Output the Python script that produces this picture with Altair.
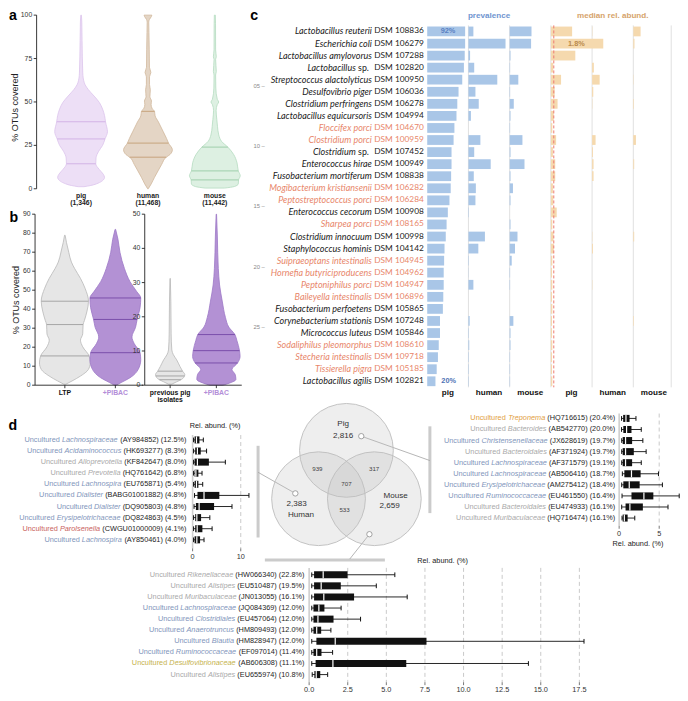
import math
import altair as alt
import pandas as pd

# ============================ DATA ============================
# ---- panel a : % OTUs covered (violin outlines)
a_names = ["pig", "human", "mouse"]
a_counts = ["(1,346)", "(11,468)", "(11,442)"]
a_ticks = [0, 25, 50, 75, 100]
pig_v = [100, 96.6, 85.3, 66.6, 61.0, 57.2, 53.4, 49.7, 45.9, 42.2, 38.6, 32.8, 28.7, 25.0, 21.6, 17.8, 14.4, 11.3, 8.4, 6.6, 4.7, 3.2, 1.9, 1.2]
pig_w = [0.3, 0.7, 1.0, 1.7, 3.3, 7.3, 13.3, 18.7, 22.0, 24.0, 25.0, 27.0, 24.5, 22.0, 18.0, 15.3, 15.0, 18.3, 22.7, 24.0, 22.0, 17.3, 10.0, 3.0]
pig_q = [14.4, 28.7, 38.6]
pig_qw = [15.0, 24.5, 25.0]
human_v = [100, 99.2, 97.5, 96, 90, 80, 70, 67, 64.5, 60, 57, 53, 50.5, 48.5, 46, 44.6, 42, 38.5, 32.8, 29, 26.3, 22.5, 19.7, 18.2, 14, 10.3, 6.6, 2.8, 0]
human_w = [4.0, 3.5, 1.5, 0.8, 1.0, 1.3, 1.5, 3.0, 1.6, 1.6, 2.4, 2.0, 3.6, 3.2, 4.5, 6.7, 7.3, 10.7, 15.7, 19.0, 21.0, 25.0, 22.5, 18.7, 14.0, 10.3, 6.7, 3.3, 0.3]
human_q = [18.2, 26.3, 44.6]
human_qw = [18.7, 21.0, 6.7]
mouse_v = [100, 95, 80, 76, 74.5, 67.5, 65.5, 58, 51.5, 50, 48.5, 45, 40, 36, 31, 27.2, 24.0, 19.7, 15, 10.3, 7.5, 5.1, 2.8, 1.3, 0.4]
mouse_w = [0.5, 0.7, 0.8, 1.5, 0.8, 1.5, 0.8, 1.0, 2.5, 4.0, 2.5, 1.3, 2.0, 2.7, 4.0, 7.0, 13.3, 19.3, 22.7, 24.0, 26.0, 24.3, 24.0, 20.0, 10.0]
mouse_q = [5.1, 10.3, 24.0]
mouse_qw = [24.3, 24.0, 13.3]

# ---- panel b
b_left_names = ["LTP", "+PIBAC"]
b_right_names = ["previous pig", "+PIBAC"]
b_right_sub = ["isolates", ""]
b_left_ticks = [0, 10, 20, 30, 40, 50, 60, 70, 80, 90]
b_right_ticks = [0, 10, 20, 30, 40, 50]
ltp_v = [78.9, 75, 70, 64.8, 61.4, 56.2, 51, 44.2, 39, 34, 31.9, 27, 23.7, 20.2, 15.4, 11.7, 8.2, 4.8, 2.2, 0.5]
ltp_w = [0.3, 1.7, 4, 6.7, 10, 16, 20.7, 24.2, 22.7, 20, 18.7, 18.3, 16, 18.3, 24.8, 26, 24, 16, 7.3, 1]
ltp_q = [15.4, 31.9, 44.2]
ltp_qw = [24.8, 18.7, 24.2]
pibac_v = [82, 76.8, 70, 61.4, 54.5, 49.4, 45.9, 40.8, 34.6, 30.5, 25.4, 21.9, 17.1, 13.4, 8.2, 3.9, 1.4, 0]
pibac_w = [0.3, 2.7, 4.7, 9.3, 15, 21.7, 26, 25.3, 22.3, 20.7, 17, 19.3, 25.3, 26, 23.3, 15, 6, 1]
pibac_q = [17.1, 34.6, 45.9]
pibac_qw = [25.3, 22.3, 26.0]
prevpig_v = [31.2, 24.6, 15, 10.3, 8.9, 7.4, 5.5, 4.1, 3.1, 2.7, 1.7, 1.0, 0.3]
prevpig_w = [0.2, 0.7, 1, 1.7, 3.3, 6.7, 10, 12.7, 15, 14.7, 11.7, 6.7, 1.7]
prevpig_q = [1.6, 2.7, 4.1]
prevpig_qw = [11.0, 14.7, 12.7]
pibac2_v = [50, 43.6, 34.1, 29.3, 24.6, 19.8, 17, 14.8, 13.1, 10.1, 8.4, 6.5, 4.6, 3.1, 1.7, 0.6, 0]
pibac2_w = [0.2, 1, 2, 3.3, 6, 9.3, 12.7, 19, 21, 23.7, 24.3, 21.7, 16, 19.3, 20, 13.3, 6.7]
pibac2_q = [6.5, 10.1, 14.8]
pibac2_qw = [21.7, 23.7, 19.0]

# ---- panel c
species = ["Lactobacillus reuterii", "Escherichia coli", "Lactobacillus amylovorus", "Lactobacillus sp.",
           "Streptococcus alactolyticus", "Desulfovibrio piger", "Clostridium perfringens",
           "Lactobacillus equicursoris", "Floccifex porci", "Clostridium porci", "Clostridium sp.",
           "Enterococcus hirae", "Fusobacterium mortiferum", "Mogibacterium kristiansenii",
           "Peptostreptococcus porci", "Enterococcus cecorum", "Sharpea porci", "Clostridium innocuum",
           "Staphylococcus hominis", "Suipraeoptans intestinalis", "Hornefia butyriciproducens",
           "Peptoniphilus porci", "Baileyella intestinalis", "Fusobacterium perfoetens",
           "Corynebacterium stationis", "Micrococcus luteus", "Sodaliphilus pleomorphus",
           "Stecheria intestinalis", "Tissierella pigra", "Lactobacillus agilis"]
dsm = ["DSM 108836", "DSM 106279", "DSM 107288", "DSM 102820", "DSM 100950", "DSM 106036", "DSM 106278",
       "DSM 104994", "DSM 104670", "DSM 100959", "DSM 107452", "DSM 100949", "DSM 108838", "DSM 106282",
       "DSM 106284", "DSM 100908", "DSM 108165", "DSM 100998", "DSM 104142", "DSM 104945", "DSM 104962",
       "DSM 104947", "DSM 106896", "DSM 105865", "DSM 107248", "DSM 105846", "DSM 108610", "DSM 109718",
       "DSM 105185", "DSM 102821"]
novel = [0, 0, 0, 0, 0, 0, 0, 0, 1, 1, 0, 0, 0, 1, 1, 0, 1, 0, 0, 1, 1, 1, 1, 0, 0, 0, 1, 1, 1, 0]
prev_pig = [92, 92, 91, 89, 85, 76, 73, 71, 66, 64, 59, 59, 58, 57, 54, 50, 47, 45, 42, 41, 40, 40, 39, 38, 31, 31, 28, 26, 23, 20]
prev_human = [12, 90, 4, 14, 70, 17, 25, 6, 0, 29, 14, 54, 13, 18, 17, 1, 0, 40, 24, 1, 0.5, 12, 0, 0, 3, 1, 2, 1, 1, 1]
prev_mouse = [53, 52, 2, 1, 21, 1, 10, 2, 1, 31, 2, 36, 2, 8, 2, 0, 2, 19, 13, 5, 1, 1, 0, 0, 9, 2, 2, 1, 1, 1]
abund_pig = [0.73, 1.8, 0.84, 0.08, 0.35, 0.13, 0.23, 0.10, 0.05, 0.18, 0.07, 0.15, 0.15, 0.07, 0.08, 0.20, 0.05, 0.09, 0.10, 0.05, 0.04, 0.05, 0.04, 0.05, 0.04, 0.04, 0.05, 0.04, 0.04, 0.05]
abund_human = [0.01, 0.01, 0, 0.06, 0.26, 0.04, 0.01, 0, 0, 0.12, 0.03, 0.05, 0.05, 0, 0, 0, 0, 0.01, 0.03, 0, 0, 0.01, 0, 0, 0, 0, 0, 0, 0, 0]
abund_mouse = [0.25, 0.04, 0, 0, 0.01, 0, 0.02, 0, 0, 0.09, 0, 0.03, 0, 0, 0, 0, 0, 0.03, 0, 0, 0, 0, 0, 0, 0.02, 0, 0, 0, 0, 0]
c_cols = ["pig", "human", "mouse", "pig", "human", "mouse"]
abund_threshold = 0.1

# ---- panel d (boxplots: min, q1, median, q3, max in % rel. abundance)
dl_genus = ["Lachnospiraceae", "Acidaminococcus", "Alloprevotella", "Prevotella", "Lachnospira",
            "Dialister", "Dialister", "Erysipelotrichaceae", "Parolsenella", "Lachnospira"]
dl_acc = ["AY984852", "HK693277", "KF842647", "HQ761642", "EU765871", "BABG01001882", "DQ905803",
          "DQ824863", "CWGU01000009", "AY850461"]
dl_pct = ["12.5%", "8.3%", "8.0%", "6.8%", "5.4%", "4.8%", "4.8%", "4.5%", "4.1%", "4.0%"]
dl_phy = ["F", "F", "B", "B", "F", "F", "F", "F", "A", "F"]
dl_min = [0.2, 0.2, 0.2, 0.2, 0.2, 0.4, 0.3, 0.2, 0.2, 0.2]
dl_q1 = [0.41, 0.54, 0.41, 0.41, 0.41, 1.01, 0.68, 0.54, 0.54, 0.41]
dl_med = [0.81, 1.0, 1.0, 0.68, 0.81, 2.37, 1.35, 0.88, 0.95, 0.88]
dl_q3 = [1.42, 1.69, 3.38, 1.2, 1.2, 5.55, 4.46, 1.76, 2.03, 1.55]
dl_max = [2.23, 2.9, 6.8, 1.96, 2.1, 11.7, 8.18, 3.58, 4.05, 2.37]

dr_genus = ["Treponema", "Bacteroides", "Christensenellaceae", "Bacteroidales", "Lachnospiraceae",
            "Lachnospiraceae", "Erysipelotrichaceae", "Ruminococcaceae", "Bacteroidales", "Muribaculaceae"]
dr_acc = ["HQ716615", "AB542770", "JX628619", "AF371924", "AF371579", "AB506416", "AM275412",
          "EU461550", "EU474933", "HQ716474"]
dr_pct = ["20.4%", "20.0%", "19.7%", "19.7%", "19.1%", "18.7%", "18.4%", "16.4%", "16.1%", "16.1%"]
dr_phy = ["S", "B", "F", "B", "F", "F", "F", "F", "B", "B"]
dr_min = [0.3, 0.3, 0.32, 0.32, 0.32, 0.4, 0.32, 0.36, 0.32, 0.36]
dr_q1 = [0.5, 0.52, 0.44, 0.44, 0.44, 0.65, 0.52, 1.54, 0.8, 0.44]
dr_med = [0.85, 0.93, 0.8, 0.8, 0.8, 1.54, 1.26, 3.09, 1.34, 0.65]
dr_q3 = [1.3, 1.54, 1.62, 1.83, 1.62, 2.68, 2.56, 4.27, 2.96, 1.06]
dr_max = [2.1, 2.76, 2.96, 3.37, 2.76, 4.91, 5.4, 7.5, 6.1, 1.95]

db_genus = ["Rikenellaceae", "Alistipes", "Muribaculaceae", "Lachnospiraceae", "Clostridiales",
            "Anaerotruncus", "Blautia", "Ruminococcaceae", "Desulfovibrionaceae", "Alistipes"]
db_acc = ["HW066340", "EU510487", "JN013055", "JQ084369", "EU457064", "HM809493", "HM828947",
          "EF097014", "AB606308", "EU655974"]
db_pct = ["22.8%", "19.5%", "16.1%", "12.0%", "12.0%", "12.0%", "12.0%", "11.4%", "11.1%", "10.8%"]
db_phy = ["B", "B", "B", "F", "F", "F", "F", "F", "P", "B"]
db_min = [0.17, 0.17, 0.17, 0.17, 0.17, 0.17, 0.17, 0.17, 0.17, 0.2]
db_q1 = [0.32, 0.32, 0.32, 0.28, 0.28, 0.28, 0.47, 0.28, 0.42, 0.34]
db_med = [0.91, 0.78, 0.95, 0.63, 0.57, 0.49, 1.69, 0.49, 1.54, 0.46]
db_q3 = [2.49, 2.05, 2.91, 0.99, 1.58, 0.78, 7.6, 0.8, 6.29, 0.72]
db_max = [5.55, 4.35, 6.35, 2.07, 3.33, 1.41, 17.8, 1.52, 14.2, 1.2]

phylum_color = {"B": "#a9a9a9", "F": "#8195bb", "A": "#c9625c", "S": "#e2a03e", "P": "#c6b24c"}

# ---- Venn
venn_names = ["Pig", "Human", "Mouse"]
venn_only = ["2,816", "2,383", "2,659"]
venn_pairs = ["939", "317", "533"]   # pig-human, pig-mouse, human-mouse
venn_all = "707"

# ============================ LAYOUT HELPERS ============================
W, H = 672, 685
SX = W / 688.0
SY = H / 701.0
FS = (SX + SY) / 2.0
SANS = "Liberation Sans, Arial, Helvetica, sans-serif"
CFONT = "Lato, Open Sans, sans-serif"


def P(X):
    return X * SX


def Q(Y):
    return Y * SY


def XS(d0, d1, X0, X1):
    return alt.Scale(domain=[d0, d1], range=[P(X0), P(X1)], nice=False, zero=False)


def YS(d0, d1, Y0, Y1):
    return alt.Scale(domain=[d0, d1], range=[Q(Y0), Q(Y1)], nice=False, zero=False)


LAYERS = []


def add(data, mark, sx, sy, x="x", y="y", x2=None, y2=None, props=None, **enc):
    e = {"x": alt.X(field=x, type="quantitative", scale=sx, axis=None),
         "y": alt.Y(field=y, type="quantitative", scale=sy, axis=None)}
    if x2:
        e["x2"] = alt.X2(field=x2)
    if y2:
        e["y2"] = alt.Y2(field=y2)
    e.update(enc)
    ch = getattr(alt.Chart(pd.DataFrame(data)), "mark_" + mark)(**(props or {})).encode(**e)
    LAYERS.append(ch)


def add_text(data, sx, sy, size, font=SANS, **props):
    enc = {"text": alt.Text(field="t", type="nominal")}
    if "c" in data:
        enc["color"] = alt.Color(field="c", type="nominal", scale=None)
    p = dict(font=font, fontSize=size * FS, baseline="middle")
    p.update(props)
    add(data, "text", sx, sy, props=p, **enc)


def violin(sx, sy, unit, pos, vals, widths, fill, stroke, qv, qw, qcol):
    d = dict(y=vals, xl=[pos - w / unit for w in widths], xr=[pos + w / unit for w in widths])
    add(d, "area", sx, sy, x="xl", y="y", x2="xr",
        props=dict(orient="horizontal", interpolate="monotone", fill=fill, stroke=stroke,
                   strokeWidth=0.8, opacity=1))
    dq = dict(y=qv, xl=[pos - w / unit for w in qw], xr=[pos + w / unit for w in qw])
    add(dq, "rule", sx, sy, x="xl", y="y", x2="xr", props=dict(color=qcol, strokeWidth=1.0))


def yaxis(sx, sy, xpos, unit, lo, hi, ticks, size=7):
    n = len(ticks)
    add(dict(x=[xpos], y=[lo], y2=[hi]), "rule", sx, sy, y2="y2", props=dict(color="#222", strokeWidth=0.9))
    add(dict(x=[xpos] * n, x2=[xpos - 3.0 / unit] * n, y=ticks), "rule", sx, sy, x2="x2",
        props=dict(color="#222", strokeWidth=0.9))
    add_text(dict(x=[xpos] * n, y=ticks, t=[str(t) for t in ticks]), sx, sy, size,
             align="right", dx=-4.5 * SX, color="#333")


FIG_X = XS(0, 688, 0, 688)
FIG_Y = YS(0, 701, 0, 701)

# ============================ PANEL a ============================
A_U = (246.0 - 29.3) / 3.165
A_X = XS(-0.165, 3.0, 29.3, 246.0)
A_Y = YS(0, 100, 185.0, 7.3)
violin(A_X, A_Y, A_U, 0.5, pig_v, pig_w, "#eddff6", "#dcc4ec", pig_q, pig_qw, "#d3b3e6")
violin(A_X, A_Y, A_U, 1.5, human_v, human_w, "#e4d5c5", "#d0b89c", human_q, human_qw, "#c7a47d")
violin(A_X, A_Y, A_U, 2.5, mouse_v, mouse_w, "#ddf0e2", "#b5dcc0", mouse_q, mouse_qw, "#9fcfab")
yaxis(A_X, A_Y, -0.165, A_U, 0, 100, a_ticks)
add_text(dict(x=[0.5, 1.5, 2.5], y=[0, 0, 0], t=a_names), A_X, A_Y, 7, dy=7 * SY,
         fontWeight="bold", color="#222")
add_text(dict(x=[0.5, 1.5, 2.5], y=[0, 0, 0], t=a_counts), A_X, A_Y, 7, dy=15 * SY,
         fontWeight="bold", color="#222")

# ============================ PANEL b ============================
B1_U = 51.7
B1_X = XS(-0.09, 2.05, 27.7, 27.7 + 2.14 * B1_U)
B1_Y = YS(0, 90, 386, 211)
violin(B1_X, B1_Y, B1_U, 0.5, ltp_v, ltp_w, "#e6e6e6", "#b8b8b8", ltp_q, ltp_qw, "#a6a6a6")
violin(B1_X, B1_Y, B1_U, 1.5, pibac_v, pibac_w, "#b391d4", "#9d78c6", pibac_q, pibac_qw, "#7b4fab")
yaxis(B1_X, B1_Y, -0.09, B1_U, 0, 90, b_left_ticks)
add(dict(x=[-0.09], x2=[2.05], y=[0]), "rule", B1_X, B1_Y, x2="x2", props=dict(color="#222", strokeWidth=0.9))
add(dict(x=[0.5, 1.5], y=[0, 0], y2=[-1.6, -1.6]), "rule", B1_X, B1_Y, y2="y2", props=dict(color="#222", strokeWidth=0.9))
add_text(dict(x=[0.5, 1.5], y=[0, 0], t=b_left_names, c=["#111", "#b38ed8"]), B1_X, B1_Y, 7,
         dy=8.5 * SY, fontWeight="bold")

B2_U = 47.3
B2_X = XS(-0.05, 2.05, 140.0, 140.0 + 2.1 * B2_U)
B2_Y = YS(0, 50, 386, 211)
violin(B2_X, B2_Y, B2_U, 0.5, prevpig_v, prevpig_w, "#e6e6e6", "#b8b8b8", prevpig_q, prevpig_qw, "#a6a6a6")
violin(B2_X, B2_Y, B2_U, 1.5, pibac2_v, pibac2_w, "#b391d4", "#9d78c6", pibac2_q, pibac2_qw, "#7b4fab")
yaxis(B2_X, B2_Y, -0.05, B2_U, 0, 50, b_right_ticks)
add(dict(x=[-0.05], x2=[2.05], y=[0]), "rule", B2_X, B2_Y, x2="x2", props=dict(color="#222", strokeWidth=0.9))
add(dict(x=[0.5, 1.5], y=[0, 0], y2=[-0.86, -0.86]), "rule", B2_X, B2_Y, y2="y2", props=dict(color="#222", strokeWidth=0.9))
add_text(dict(x=[0.5, 1.5], y=[0, 0], t=b_right_names, c=["#111", "#b38ed8"]), B2_X, B2_Y, 7,
         dy=8.5 * SY, fontWeight="bold")
add_text(dict(x=[0.5], y=[0], t=[b_right_sub[0]]), B2_X, B2_Y, 7, dy=15.5 * SY,
         fontWeight="bold", color="#111")

add_text(dict(x=[7, 8], y=[102, 299], t=["% OTUs covered", "% OTUs covered"]), FIG_X, FIG_Y, 9.2,
         angle=270, align="center", color="#222")

# ============================ PANEL c ============================
rows = list(range(1, 31))
C_Y = YS(1, 30, 24.0, 382.0)
COLW = 42.2
prev_base = [429.2, 471.4, 513.6]
abund_base = [555.8, 598.0, 640.2]
ABU = 29.8  # px per 1 % abundance
COLS = XS(0, 6, 429.2, 429.2 + 6 * COLW)
half = 5.0 / 12.34
PIG_X = XS(0, 100, prev_base[0], prev_base[0] + COLW)

# column separators
add(dict(x=[1, 2, 3, 4, 5, 5.92], y=[0.5] * 6, y2=[30.5] * 6), "rule", COLS, C_Y, y2="y2",
    props=dict(color="#dcdcdc", strokeWidth=0.9))

for base, vals in zip(prev_base, [prev_pig, prev_human, prev_mouse]):
    sx = XS(0, 100, base, base + COLW)
    add(dict(x=vals, x0=[0] * 30, y=[r - half for r in rows], y2=[r + half for r in rows]), "rect", sx, C_Y,
        x2="x0", y2="y2", props=dict(color="#a9c6e7"))
for base, vals in zip(abund_base, [abund_pig, abund_human, abund_mouse]):
    sx = XS(0, COLW / ABU, base, base + COLW)
    add(dict(x=vals, x0=[0] * 30, y=[r - half for r in rows], y2=[r + half for r in rows]), "rect", sx, C_Y,
        x2="x0", y2="y2", props=dict(color="#f5d9ae"))

PIGAB_X = XS(0, COLW / ABU, abund_base[0], abund_base[0] + COLW)
add(dict(x=[abund_threshold], y=[0.5], y2=[30.5]), "rule", PIGAB_X, C_Y, y2="y2",
    props=dict(color="#ee7b72", strokeWidth=1.0, strokeDash=[3, 2]))

# species labels
lab_col = ["#e8866a" if n else "#1a1a1a" for n in novel]
ital = [s[:-4] if s.endswith(" sp.") else s for s in species]
is_sp = [s.endswith(" sp.") for s in species]
idx_n = [i for i in range(30) if not is_sp[i]]
idx_s = [i for i in range(30) if is_sp[i]]
add_text(dict(x=[0] * len(idx_n), y=[rows[i] for i in idx_n], t=[ital[i] for i in idx_n],
              c=[lab_col[i] for i in idx_n]), PIG_X, C_Y, 9.2, font=CFONT, fontStyle="italic",
         align="right", dx=(372.5 - 429.2) * SX)
add_text(dict(x=[0] * len(idx_s), y=[rows[i] for i in idx_s], t=[ital[i] for i in idx_s],
              c=[lab_col[i] for i in idx_s]), PIG_X, C_Y, 9.2, font=CFONT, fontStyle="italic",
         align="right", dx=(356.0 - 429.2) * SX)
add_text(dict(x=[0] * len(idx_s), y=[rows[i] for i in idx_s], t=["sp."] * len(idx_s),
              c=[lab_col[i] for i in idx_s]), PIG_X, C_Y, 9.0, font=CFONT,
         align="right", dx=(369.5 - 429.2) * SX)
add_text(dict(x=[0] * 30, y=rows, t=dsm, c=lab_col), PIG_X, C_Y, 8.5, font=CFONT,
         align="left", dx=(375.0 - 429.2) * SX)
# row index marks
add_text(dict(x=[0] * 5, y=[5.5, 10.5, 15.5, 20.5, 25.5], t=["05 –", "10 –", "15 –", "20 –", "25 –"]),
         PIG_X, C_Y, 6, align="right", dx=(263 - 429.2) * SX, color="#8a8a8a")
# value annotations
add_text(dict(x=[prev_pig[0]], y=[1], t=[f"{prev_pig[0]}%"]), PIG_X, C_Y, 7.5, align="right",
         dx=-10 * SX, color="#5a80c2", fontWeight="bold")
add_text(dict(x=[prev_pig[-1]], y=[30], t=[f"{prev_pig[-1]}%"]), PIG_X, C_Y, 7.5, align="left",
         dx=6 * SX, color="#4f74b6", fontWeight="bold")
add_text(dict(x=[abund_pig[1]], y=[2], t=[f"{abund_pig[1]}%"]), PIGAB_X, C_Y, 7.5, align="right",
         dx=-19 * SX, color="#b98a4c", fontWeight="bold")
# headers and column labels
add_text(dict(x=[1.5, 4.5], y=[1, 1], t=["prevalence", "median rel. abund."], c=["#6f95d0", "#d6a36c"]),
         COLS, C_Y, 8.3, dy=-15.5 * SY, fontWeight="bold")
add_text(dict(x=[0.5, 1.5, 2.5, 3.5, 4.5, 5.5], y=[30] * 6, t=c_cols), COLS, C_Y, 8.3,
         dy=12.5 * SY, fontWeight="bold", color="#111")

# ============================ PANEL d ============================
AW = {' ': 278, '(': 333, ')': 333, '.': 278, '%': 889, ',': 278}
for ch in '0123456789':
    AW[ch] = 556
AW.update(dict(A=667, B=667, C=722, D=722, E=667, F=611, G=778, H=722, I=278, J=500, K=667, L=556, M=833,
               N=722, O=778, P=667, Q=778, R=722, S=667, T=611, U=722, V=667, W=944, X=667, Y=667, Z=611))
AW.update(dict(a=556, b=556, c=500, d=556, e=556, f=278, g=556, h=556, i=222, j=222, k=500, l=222, m=833,
               n=556, o=556, p=556, q=556, r=333, s=500, t=278, u=556, v=500, w=722, x=500, y=500, z=500))


def tw(s, size):
    return sum(AW.get(ch, 556) for ch in s) * size / 1000.0


def box_panel(axisX, unit, dmax, row0, step, genus, acc, pct, phy, mn, q1, md, q3, mx,
              gap, ticks, ticklab, top, bot, grid, labY, titleX, titleY):
    n = len(genus)
    rr = list(range(1, n + 1))
    sx = XS(0, dmax, axisX, axisX + unit * dmax)
    sy = YS(1, n, row0, row0 + step * (n - 1))
    add(dict(x=grid, y=[top] * len(grid), y2=[bot] * len(grid)), "rule", sx, sy, y2="y2",
        props=dict(color="#bdbdbd", strokeWidth=0.8, strokeDash=[4, 3]))
    add(dict(x=[0], y=[top], y2=[bot]), "rule", sx, sy, y2="y2", props=dict(color="#cfcfcf", strokeWidth=1.6))
    tk = 3.0 / step
    add(dict(x=ticks, y=[bot] * len(ticks), y2=[bot + tk] * len(ticks)), "rule", sx, sy, y2="y2",
        props=dict(color="#555", strokeWidth=0.8))
    lab_row = 1 + (labY - row0) / step
    add_text(dict(x=ticks, y=[lab_row] * len(ticks), t=ticklab), sx, sy, 7.5,
             color="#333", align="center")
    title_row = 1 + (titleY - row0) / step
    add_text(dict(x=[(titleX - axisX) / unit], y=[title_row], t=["Rel. abund. (%)"]), sx, sy, 7.5,
             color="#222", align="center")
    # whiskers & caps
    add(dict(x=mn, x2=mx, y=rr), "rule", sx, sy, x2="x2", props=dict(color="#111", strokeWidth=0.9))
    c = 2.4 / step
    add(dict(x=mn + mx, y=[r - c for r in rr] * 2, y2=[r + c for r in rr] * 2), "rule", sx, sy, y2="y2",
        props=dict(color="#111", strokeWidth=1.0))
    b = 3.6 / step
    add(dict(x=q1, x2=q3, y=[r - b for r in rr], y2=[r + b for r in rr]), "rect", sx, sy, x2="x2", y2="y2",
        props=dict(color="#111"))
    add(dict(x=md, y=[r - b for r in rr], y2=[r + b for r in rr]), "rule", sx, sy, y2="y2",
        props=dict(color="#ffffff", strokeWidth=1.2))
    # labels: "Uncultured" + italic genus (phylum colour) + accession/percentage (black)
    LX = XS(-600, 0, axisX - gap - 600, axisX - gap)
    size = 7.5
    p3 = [f"({a}) ({p})" for a, p in zip(acc, pct)]
    x3 = [0.0] * n
    x2 = [-(tw(s, size) + tw(" ", size)) for s in p3]
    x1 = [x2[i] - tw(genus[i], size) - tw(" ", size) for i in range(n)]
    cols = [phylum_color[p] for p in phy]
    add_text(dict(x=x3, y=rr, t=p3), LX, sy, size, align="right", color="#1e1e1e")
    add_text(dict(x=x2, y=rr, t=genus, c=cols), LX, sy, size, align="right", fontStyle="italic")
    add_text(dict(x=x1, y=rr, t=["Uncultured"] * n, c=cols), LX, sy, size, align="right")


box_panel(189.0, 4.93, 10, 442.0, 11.36, dl_genus, dl_acc, dl_pct, dl_phy, dl_min, dl_q1, dl_med, dl_q3, dl_max,
          6.3, [0, 10], ["0", "10"], 0.56, 10.77, [10], 562.0, 212.0, 428.0)
box_panel(625.7, 8.2, 5, 420.0, 11.33, dr_genus, dr_acc, dr_pct, dr_phy, dr_min, dr_q1, dr_med, dr_q3, dr_max,
          4.0, [0, 5], ["0", "5"], 0.56, 10.7, [5], 538.0, 645.0, 548.5)
bt = [0, 2.5, 5, 7.5, 10, 12.5, 15, 17.5]
box_panel(308.3, 15.81, 17.5, 580.0, 11.35, db_genus, db_acc, db_pct, db_phy, db_min, db_q1, db_med, db_q3, db_max,
          4.8, bt, [f"{t:.1f}" for t in bt], 0.38, 10.69, bt[1:], 698.0, 445.0, 566.0)

# ---- Venn diagram (unit = circle radius)
VC = (346.5, 485.7)
VR = 48.0
V_X = XS(-1, 1, VC[0] - VR, VC[0] + VR)
V_Y = YS(-1, 1, VC[1] + VR, VC[1] - VR)
dv = 0.6875
cx = [0.0, -dv * math.sin(math.pi / 3), dv * math.sin(math.pi / 3)]
cy = [dv, -dv / 2, -dv / 2]
# brackets and connectors (behind)
add(dict(x=[-1.885, 1.78, -1.74], x2=[-1.885, 1.78, 0.82], y=[0.785, 1.2, -1.65], y2=[-1.17, -0.65, -1.65]),
    "rule", V_X, V_Y, x2="x2", y2="y2", props=dict(color="#cbcbcb", strokeWidth=3))
mk_x = [0.316, -1.09, 0.49]
mk_y = [0.99, -0.23, -1.1]
add(dict(x=mk_x, y=mk_y, x2=[1.78, -1.885, 0.07], y2=[0.47, 0.22, -1.63]), "rule", V_X, V_Y, x2="x2", y2="y2",
    props=dict(color="#a3a3a3", strokeWidth=0.8))
add(dict(x=cx, y=cy), "point", V_X, V_Y,
    props=dict(shape="circle", filled=True, size=(2 * VR * SX) ** 2, fill="#c2c2c2", fillOpacity=0.27,
               stroke="#bdbdbd", strokeWidth=0.9, strokeOpacity=1, opacity=1))
add(dict(x=mk_x, y=mk_y), "point", V_X, V_Y,
    props=dict(shape="circle", filled=True, size=(5.5 * SX) ** 2, fill="#ffffff", stroke="#8e8e8e",
               strokeWidth=0.8, opacity=1))
add_text(dict(x=[-0.07, -0.07, -1.06, -0.97, 1.05, 0.92],
              y=[1.24, 0.99, -0.45, -0.68, -0.28, -0.49],
              t=[venn_names[0], venn_only[0], venn_only[1], venn_names[1], venn_names[2], venn_only[2]]),
         V_X, V_Y, 8.3, color="#333", align="center")
add_text(dict(x=[-0.62, 0.59, -0.04, 0.0], y=[0.28, 0.28, -0.59, -0.02],
              t=[venn_pairs[0], venn_pairs[1], venn_pairs[2], venn_all]),
         V_X, V_Y, 6.3, color="#444", align="center")

# ---- panel letters
add_text(dict(x=[5, 6, 252, 5], y=[8, 215, 8, 428], t=["a", "b", "c", "d"]), FIG_X, FIG_Y, 14.5,
         fontWeight="bold", color="#000", align="center")

# ============================ ASSEMBLE ============================
chart = alt.layer(*LAYERS).resolve_scale(x="independent", y="independent", color="independent").properties(
    width=W, height=H, autosize=alt.AutoSizeParams(type="none"), padding=0, background="white"
).configure_view(stroke=None)

chart.save("out.html", embed_options={"renderer": "svg", "actions": False})
